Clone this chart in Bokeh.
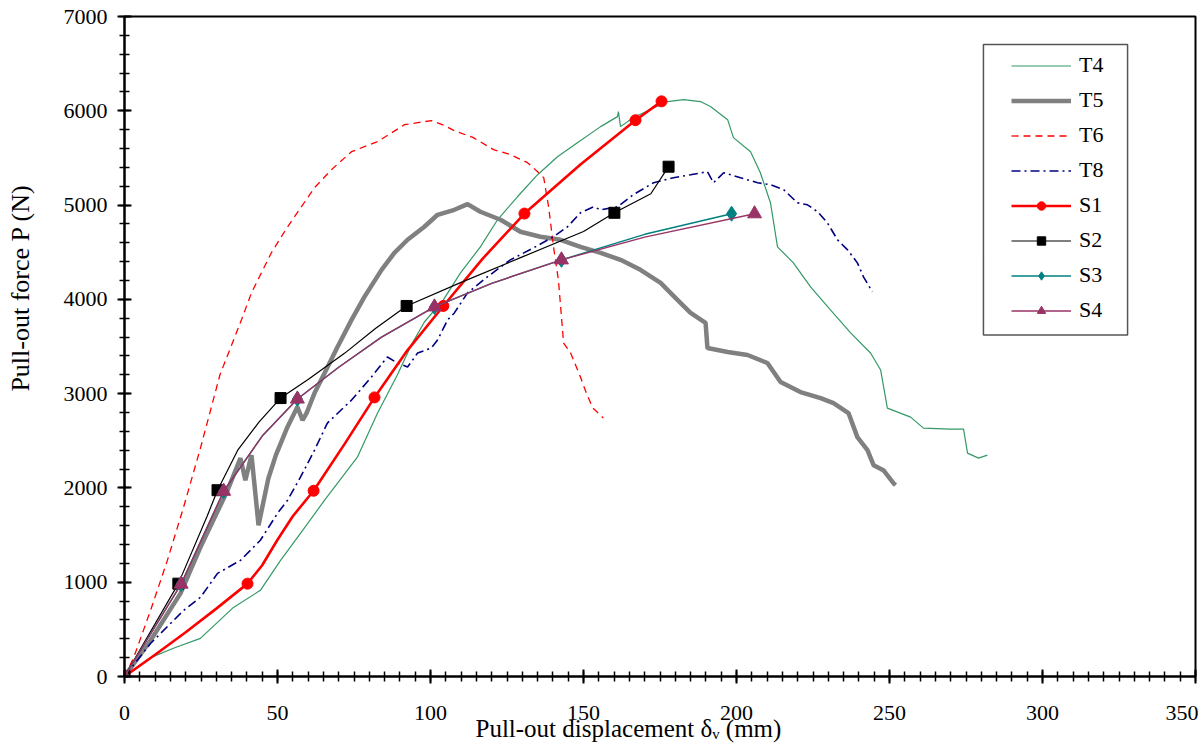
from bokeh.plotting import figure
from bokeh.models import Range1d, Legend, LegendItem, Title, BoxAnnotation, SingleIntervalTicker
from bokeh.embed import file_html
from bokeh.resources import INLINE

# ---------------- data (displacement mm, force N) ----------------
t4_x = [0, 8.5, 16, 24.8, 35.6, 44.4, 51, 57.5, 65.4, 76.1, 82.7, 89.2, 93.8, 98, 104.2, 106.9, 109.8,
        116.3, 121.9, 128.4, 135, 141.5, 148, 155.6, 161.1, 161.4, 162.1, 166.3, 171.9, 177.5, 182.7,
        188.2, 191.5, 197.1, 199, 204.6, 207.8, 211.1, 213.4, 218.6, 224.2, 230.7, 237.3, 243.8, 247.1,
        249.3, 256.9, 261.1, 269.9, 274.2, 275.5, 279.1, 282]
t4_y = [0, 200, 300, 404, 733, 914, 1232, 1519, 1870, 2326, 2794, 3200, 3520, 3760, 3994, 4132, 4281,
        4557, 4844, 5088, 5322, 5513, 5662, 5832, 5938, 5991, 5832, 5928, 6013, 6098, 6119,
        6098, 6045, 5906, 5715, 5566, 5343, 5025, 4557, 4387, 4132, 3888, 3644, 3431, 3251,
        2847, 2751, 2634, 2624, 2624, 2369, 2316, 2348]

t5_x = [0, 8.5, 18.3, 24.8, 33.7, 37.9, 39.5, 41.5, 43.8, 47, 49.5, 53.3, 56.5, 58.2, 59.5, 62.1, 65.4,
        69.6, 74.2, 78.4, 84, 88.2, 92.5, 98, 102.3, 107.8, 112.1, 116.3, 122.9, 129.4, 135.9, 142.5,
        149, 155.6, 162.1, 168.6, 175.2, 180.7, 185, 189.9, 190.5, 197.1, 203.6, 210.1, 214.4, 220.9,
        227.5, 231.7, 236.6, 239.5, 242.8, 244.8, 248, 251.3, 252]
t5_y = [0, 382, 882, 1370, 1976, 2316, 2082, 2348, 1604, 2100, 2350, 2650, 2858, 2720, 2794, 3006, 3219,
        3495, 3782, 4026, 4313, 4494, 4632, 4770, 4897, 4950, 5010, 4929, 4844, 4717, 4664, 4632,
        4557, 4493, 4419, 4313, 4175, 3994, 3856, 3750, 3484, 3442, 3410, 3325, 3123, 3017,
        2953, 2900, 2794, 2539, 2401, 2241, 2188, 2050, 2030]

t6_x = [0, 3, 8.5, 14, 19.3, 24.8, 31.2, 38.2, 41.5, 48, 53.3, 57.8, 62.1, 67.6, 74.2, 82.7, 91.5, 95.8,
        100.3, 104.6, 107.8, 114, 120.6, 126.1, 131.7, 135, 137, 138.6, 140.2, 141.8, 143.5, 145.8,
        149, 151, 153, 156.5]
t6_y = [0, 200, 700, 1230, 1795, 2420, 3200, 3782, 4069, 4494, 4770, 4982, 5184, 5375, 5566, 5673, 5853, 5874,
        5896, 5843, 5789, 5715, 5588, 5535, 5450, 5354, 5290, 4982, 4557, 4207, 3537, 3431,
        3176, 3000, 2850, 2740]

t8_x = [0, 8.5, 19.3, 24.8, 30.4, 37.9, 44.4, 50, 53.3, 57.5, 62.1, 66.3, 74.2, 80.7, 85.9, 89.2, 92.5,
        95.8, 100.3, 102.3, 105.6, 107.8, 112.1, 118.6, 126.1, 133.7, 140.2, 144.8, 149, 153.3, 155.6,
        161.1, 166.3, 172.9, 179.4, 185, 190.5, 192.5, 195.8, 201.3, 206.9, 211.1, 215.4, 219.9, 223.2,
        226.5, 229.7, 233, 236.3, 239.5, 241.5, 244.4]
t8_y = [0, 350, 701, 839, 1094, 1232, 1445, 1731, 1870, 2114, 2401, 2688, 2932, 3176, 3389, 3325, 3282,
        3431, 3484, 3569, 3782, 3856, 4069, 4239, 4419, 4547, 4664, 4770, 4918, 4982, 4950,
        4982, 5110, 5237, 5290, 5322, 5354, 5237, 5343, 5290, 5237, 5216, 5163, 5025, 5003,
        4929, 4812, 4632, 4525, 4387, 4239, 4079]

# S1 - S4 : simulated curves (line) and their marked points
s1_x = [0, 10, 20, 30, 40.2, 45, 50, 55, 61.8, 72, 81.7, 92, 104.2, 117, 130.7, 149, 167, 175.5]
s1_y = [0, 230, 470, 720, 985, 1180, 1450, 1700, 1970, 2470, 2960, 3440, 3930, 4430, 4910, 5430, 5900, 6100]
s1_mx = [0, 40.2, 61.8, 81.7, 104.2, 130.7, 167, 175.5]
s1_my = [0, 985, 1970, 2960, 3930, 4910, 5900, 6100]

s2_x = [0, 17.6, 27, 30.4, 37, 44, 51, 60, 72, 82, 92.2, 110, 130, 150, 160.1, 172, 177.8]
s2_y = [0, 985, 1700, 1976, 2400, 2700, 2953, 3150, 3430, 3690, 3930, 4180, 4450, 4720, 4918, 5120, 5407]
s2_mx = [0, 17.6, 30.4, 51, 92.2, 160.1, 177.8]
s2_my = [0, 985, 1976, 2953, 3930, 4918, 5407]

s3_x = [0, 18.5, 32.4, 45, 56.5, 70, 84, 101.3, 120, 142.8, 170, 198.4]
s3_y = [0, 980, 1965, 2550, 2943, 3280, 3600, 3920, 4170, 4419, 4690, 4908]
s3_mx = [0, 18.5, 32.4, 56.5, 101.3, 142.8, 198.4]
s3_my = [0, 980, 1965, 2943, 3920, 4419, 4908]

s4_x = [0, 18.5, 32.4, 45, 56.5, 70, 84, 101.3, 120, 142.8, 170, 205.9]
s4_y = [0, 980, 1965, 2550, 2943, 3280, 3600, 3920, 4170, 4419, 4660, 4908]
s4_mx = [0, 18.5, 32.4, 56.5, 101.3, 142.8, 205.9]
s4_my = [0, 980, 1965, 2943, 3920, 4419, 4908]

FONT = "Liberation Serif"

p = figure(width=1198, height=756, output_backend="svg", toolbar_location=None,
           x_range=Range1d(0, 350), y_range=Range1d(0, 7000),
           min_border_left=124, min_border_right=3, min_border_top=16, min_border_bottom=80)
p.grid.visible = False
p.outline_line_color = "black"
p.outline_line_width = 2
p.background_fill_color = "white"
p.border_fill_color = "white"

p.xaxis.ticker = SingleIntervalTicker(interval=50, num_minor_ticks=10)
p.yaxis.ticker = SingleIntervalTicker(interval=1000, num_minor_ticks=5)
for ax in (p.xaxis, p.yaxis):
    ax.axis_line_color = "black"
    ax.axis_line_width = 2
    ax.major_tick_line_color = "black"
    ax.major_tick_line_width = 2
    ax.minor_tick_line_color = "black"
    ax.minor_tick_line_width = 1.5
    ax.major_tick_in = 7
    ax.major_tick_out = 7
    ax.minor_tick_in = 5
    ax.minor_tick_out = 5
    ax.major_label_text_font = FONT
    ax.major_label_text_font_size = "22px"
    ax.major_label_text_color = "black"
p.xaxis.major_label_standoff = 22
p.yaxis.major_label_standoff = 10

# y axis title (leading no-break spaces move it up along the axis, as in the original)
p.yaxis.axis_label = "\u00a0" * 18 + "Pull-out force P (N)"
p.yaxis.axis_label_text_font = FONT
p.yaxis.axis_label_text_font_size = "26px"
p.yaxis.axis_label_text_font_style = "normal"
p.yaxis.axis_label_text_color = "black"
p.yaxis.axis_label_standoff = 26

# ---- experimental curves ----
r_t4 = p.line(t4_x, t4_y, line_color="#339966", line_width=1.2)
r_t5 = p.line(t5_x, t5_y, line_color="#808080", line_width=4.5)
r_t6 = p.line(t6_x, t6_y, line_color="#FF0000", line_width=1.3, line_dash="7 5")
r_t8 = p.line(t8_x, t8_y, line_color="#000080", line_width=1.6, line_dash="9 4 2 4")

# ---- simulated curves ----
r_s1l = p.line(s1_x, s1_y, line_color="#FF0000", line_width=2.6)
r_s1m = p.scatter(s1_mx, s1_my, marker="circle", size=11, fill_color="#FF0000", line_color="#FF0000")
r_s2l = p.line(s2_x, s2_y, line_color="black", line_width=1.2)
r_s2m = p.scatter(s2_mx, s2_my, marker="square", size=11, fill_color="black", line_color="black")
r_s3l = p.line(s3_x, s3_y, line_color="#008080", line_width=1.4)
r_s3m = p.scatter(s3_mx, s3_my, marker="diamond", size=15, fill_color="#008080", line_color="#008080")
r_s4l = p.line(s4_x, s4_y, line_color="#993366", line_width=1.4)
r_s4m = p.scatter(s4_mx, s4_my, marker="triangle", size=14, fill_color="#993366", line_color="#993366")

# legend frame
p.add_layout(BoxAnnotation(left=280.7, right=327.8, bottom=3622, top=6703,
                           fill_alpha=0, line_color="#555555", line_width=1.5, line_alpha=1))

legend = Legend(items=[
    LegendItem(label="T4", renderers=[r_t4]),
    LegendItem(label="T5", renderers=[r_t5]),
    LegendItem(label="T6", renderers=[r_t6]),
    LegendItem(label="T8", renderers=[r_t8]),
    LegendItem(label="S1", renderers=[r_s1l, r_s1m]),
    LegendItem(label="S2", renderers=[r_s2l, r_s2m]),
    LegendItem(label="S3", renderers=[r_s3l, r_s3m]),
    LegendItem(label="S4", renderers=[r_s4l, r_s4m]),
], location=(876, 342))
legend.border_line_alpha = 0
legend.background_fill_alpha = 0
legend.padding = 11
legend.margin = 0
legend.spacing = 9
legend.glyph_width = 60
legend.glyph_height = 21
legend.label_height = 21
legend.label_standoff = 8
legend.label_text_font = FONT
legend.label_text_font_size = "22px"
legend.label_text_color = "black"
p.add_layout(legend)

# ---- x axis title ----
x_title = Title(text="Pull-out displacement δᵥ (mm)", align="left", offset=351, standoff=-16,
                vertical_align="top",
                text_font=FONT, text_font_size="25px", text_font_style="normal", text_color="black")
p.add_layout(x_title, "below")

open("out.html", "w").write(file_html(p, INLINE))
